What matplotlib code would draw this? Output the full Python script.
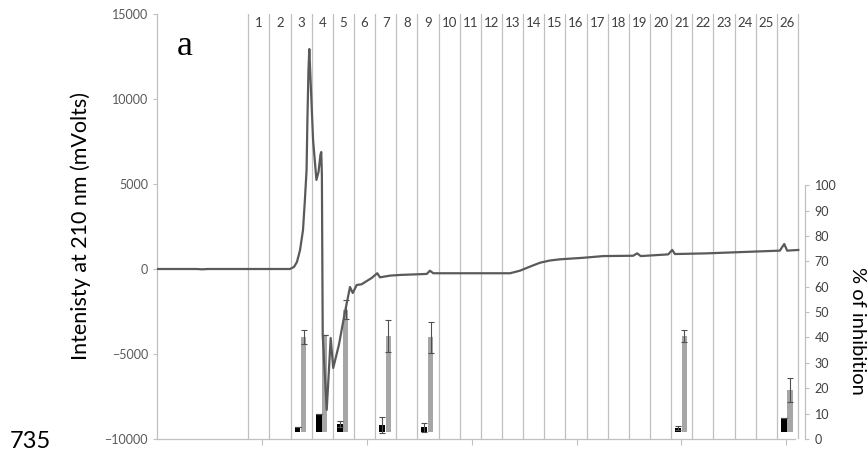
import numpy as np
import matplotlib
matplotlib.use("Agg")
import matplotlib.pyplot as plt
from matplotlib import transforms

plt.rcParams['font.family'] = ['Lato', 'DejaVu Sans']

# HPLC trace: retention time (min) vs detector signal (mV)
time_min = [0.0, 1.9, 2.15, 2.4, 6.34, 6.53, 6.67, 6.82, 6.96, 7.05, 7.13, 7.17,
            7.22, 7.26, 7.34, 7.44, 7.60, 7.70, 7.79, 7.83, 7.86, 7.90, 8.09,
            8.28, 8.40, 8.67, 8.96, 9.20, 9.33, 9.52, 9.75, 10.23, 10.50,
            10.63, 11.11, 11.58, 12.86, 13.01, 13.17, 14.92, 16.83, 17.30,
            17.78, 18.26, 18.73, 19.21, 20.32, 21.27, 22.70, 22.89, 23.06,
            24.37, 24.56, 24.69, 26.20, 29.69, 29.90, 30.04, 30.57]
signal_mv = [0, 0, -20, 0, 0, 120, 410, 1120, 2290, 4060, 5820, 8760,
             11700, 12940, 10530, 7590, 5240, 5710, 6710, 6880, 5530, -3880, -8290,
             -4060, -5820, -4470, -2530, -1060, -1410, -940, -900, -530, -250,
             -490, -390, -350, -290, -100, -250, -250, -250, -100,
             140, 370, 500, 570, 660, 760, 780, 920, 760,
             860, 1120, 880, 920, 1080, 1470, 1080, 1120]

# collected fractions
fractions = list(range(1, 27))
frac_first_edge = 4.35
frac_width = 1.008

# inhibition assay (%), two conditions per tested fraction
bar_fractions = [3, 4, 5, 7, 9, 21, 26]
black_vals = [4.8, 9.8, 5.9, 5.4, 4.6, 4.3, 8.2]
black_err = [0, 0, 1.0, 3.1, 1.7, 0.9, 0]
gray_vals = [40.2, 41.1, 50.9, 40.6, 40.0, 40.7, 19.4]
gray_err = [2.9, 0, 3.8, 6.3, 6.0, 2.3, 4.8]
bar_base = 2.6

W, H = 867, 458
fig = plt.figure(figsize=(W / 100, H / 100), dpi=100)
ax = fig.add_axes([157 / W, 1 - 439 / H, (805 - 157) / W, (439 - 14) / H])
ax2 = ax.twinx()
ax.set_zorder(ax2.get_zorder() + 1)
ax.patch.set_visible(False)

grid_col = '#c0c0c0'
edges = [frac_first_edge + k * frac_width for k in range(len(fractions) + 1)]
for e in edges:
    ax.axvline(e, color=grid_col, lw=0.9, zorder=0)

trans = transforms.blended_transform_factory(ax.transData, ax.transAxes)
for i, f in enumerate(fractions):
    ax.text(edges[i] + frac_width / 2, 0.979, str(f), transform=trans,
            ha='center', va='center', fontsize=9.5, color='#404040')

ax.plot(time_min, signal_mv, color='#5a5a5a', lw=1.6, zorder=3)

ax.set_xlim(0, 30.89)
ax.set_ylim(-10000, 15000)
ax.set_yticks(np.arange(-10000, 15001, 5000))
ax.set_xticks(np.arange(5, 31, 5))
ax.set_xticklabels([])
ax.tick_params(axis='y', colors=grid_col, labelcolor='#595959', labelsize=9,
               length=3, width=0.8)
ax.tick_params(axis='x', colors=grid_col, length=4, width=0.8)
for s in ['top', 'right']:
    ax.spines[s].set_visible(False)
for s in ['left', 'bottom']:
    ax.spines[s].set_color(grid_col)
    ax.spines[s].set_linewidth(0.9)
ax.spines['bottom'].set_bounds(0, 30.4)
ax.set_ylabel('Intenisty at 210 nm (mVolts)', fontsize=15.5, color='black',
              labelpad=10)

# bars on the secondary axis
centers = [frac_first_edge + (f - 1) * frac_width for f in bar_fractions]
bx = [c + 0.33 * frac_width for c in centers]
gx = [c + 0.62 * frac_width for c in centers]
ax2.bar(bx, [v - bar_base for v in black_vals], bottom=bar_base, width=0.28,
        color='black', zorder=2)
ax2.bar(gx, [v - bar_base for v in gray_vals], bottom=bar_base, width=0.24,
        color='#a6a6a6', zorder=2)
ax2.errorbar(bx, black_vals, yerr=black_err, fmt='none', ecolor='#505050',
             elinewidth=0.8, capsize=2.2, capthick=0.8, zorder=3)
ax2.errorbar(gx, gray_vals, yerr=gray_err, fmt='none', ecolor='#505050',
             elinewidth=0.8, capsize=2.2, capthick=0.8, zorder=3)

ax2.set_ylim(0, 167.4)
ax2.set_yticks(np.arange(0, 101, 10))
ax2.tick_params(axis='y', colors=grid_col, labelcolor='#404040', labelsize=9,
                length=3, width=0.8, pad=4)
for s in ['top', 'left', 'bottom']:
    ax2.spines[s].set_visible(False)
ax2.spines['right'].set_color(grid_col)
ax2.spines['right'].set_linewidth(0.9)
ax2.spines['right'].set_bounds(0, 100)

fig.text(858 / W, 1 - 331 / H, '% of inhibition', rotation=270,
         ha='center', va='center', fontsize=14.5, color='black')
fig.text(185 / W, 1 - 55 / H, 'a', family=['Liberation Serif'], fontsize=26,
         ha='center', va='baseline', color='black')
fig.text(30 / W, 1 - 441 / H, '735', fontsize=17, ha='center', va='center',
         color='black')

fig.savefig('out.png', dpi=100)
